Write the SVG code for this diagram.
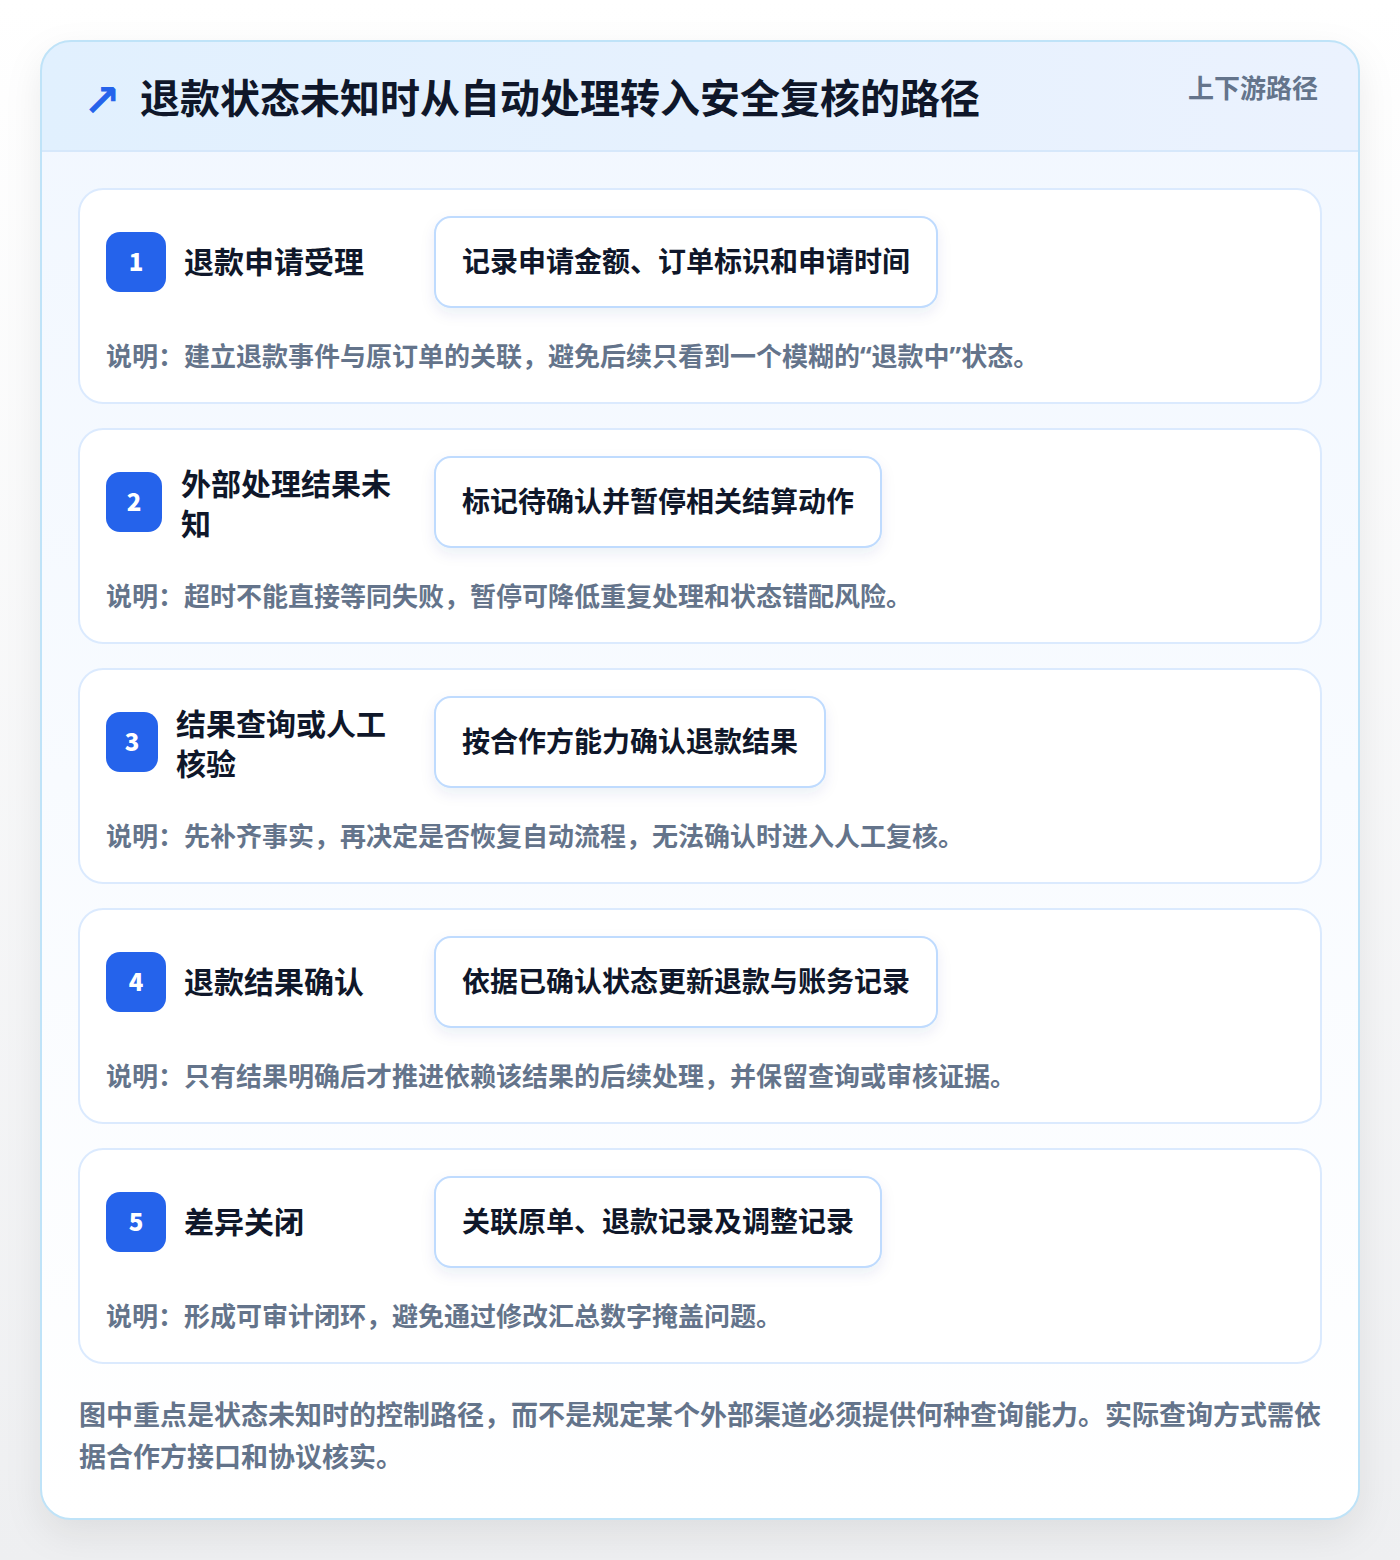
<svg xmlns="http://www.w3.org/2000/svg" width="1400" height="1560" viewBox="0 0 1400 1560">
<defs>
<linearGradient id="bg" x1="0" y1="0" x2="0" y2="1"><stop offset="0" stop-color="#ffffff"/><stop offset="1" stop-color="#eeeff1"/></linearGradient>
<linearGradient id="hdr" x1="0" y1="0" x2="1" y2="0"><stop offset="0" stop-color="#e1f0fe"/><stop offset="1" stop-color="#ebf2fe"/></linearGradient>
<linearGradient id="body" x1="0" y1="0" x2="0" y2="1"><stop offset="0" stop-color="#f1f7ff"/><stop offset="1" stop-color="#ffffff"/></linearGradient>
<filter id="sh" x="-10%" y="-10%" width="120%" height="120%"><feDropShadow dx="0" dy="14" stdDeviation="18" flood-color="#0f172a" flood-opacity="0.08"/></filter>
<filter id="bsh" x="-10%" y="-20%" width="120%" height="150%"><feDropShadow dx="0" dy="6" stdDeviation="7" flood-color="#1e3a8a" flood-opacity="0.08"/></filter>
<clipPath id="cc"><rect x="41" y="41" width="1318" height="1478" rx="30"/></clipPath>
<style>
text{font-family:"Noto Sans CJK SC","Noto Sans",sans-serif;font-weight:700}
.card{fill:#ffffff;stroke:#dbeafe;stroke-width:2}
.badge{fill:#2563eb}
.num{fill:#ffffff;font-size:24px;font-weight:900;text-anchor:middle}
.ttl{fill:#0f172a;font-size:30px}
.box{fill:#ffffff;stroke:#bfdbfe;stroke-width:2}
.btx{fill:#0f172a;font-size:28px}
.desc{fill:#64748b;font-size:26px}
.foot{fill:#64748b;font-size:27px}
.q{font-family:"Noto Sans","Liberation Sans",sans-serif}
</style>
</defs>
<rect x="0" y="0" width="1400" height="1560" fill="url(#bg)"/>
<g id="frame">
<rect x="41" y="41" width="1318" height="1478" rx="30" fill="url(#body)" filter="url(#sh)"/>
<g clip-path="url(#cc)">
<rect x="41" y="41" width="1318" height="110" fill="url(#hdr)"/>
<line x1="41" y1="151" x2="1359" y2="151" stroke="#d6e8fb" stroke-width="2"/>
</g>
<rect x="41" y="41" width="1318" height="1478" rx="30" fill="none" stroke="#bfe3f8" stroke-width="2"/>
</g>
<g id="header">
<text x="83" y="116" style="font-family:'DejaVu Sans',sans-serif;font-size:45px;font-weight:700" fill="#2563eb">↗</text>
<text x="140" y="113" style="font-size:40px" fill="#0f172a">退款状态未知时从自动处理转入安全复核的路径</text>
<text x="1318" y="98" style="font-size:26px" fill="#64748b" text-anchor="end">上下游路径</text>
</g>
<g id="connectors"></g>
<g id="step1">
<rect class="card" x="79" y="189" width="1242" height="214" rx="24"/>
<rect class="badge" x="106" y="232" width="60" height="60" rx="14"/>
<text class="num" x="136" y="271">1</text>
<text class="ttl" x="184" y="273">退款申请受理</text>
<rect class="box" x="435" y="217" width="502" height="90" rx="16" filter="url(#bsh)"/>
<text class="btx" x="462" y="272">记录申请金额、订单标识和申请时间</text>
<text class="desc" x="106" y="366">说明：建立退款事件与原订单的关联，避免后续只看到一个模糊的<tspan class="q">“</tspan>退款中<tspan class="q">”</tspan>状态。</text>
</g>
<g id="step2">
<rect class="card" x="79" y="429" width="1242" height="214" rx="24"/>
<rect class="badge" x="106" y="472" width="56" height="60" rx="14"/>
<text class="num" x="134" y="511">2</text>
<text class="ttl" x="181" y="495">外部处理结果未</text>
<text class="ttl" x="181" y="535">知</text>
<rect class="box" x="435" y="457" width="446" height="90" rx="16" filter="url(#bsh)"/>
<text class="btx" x="462" y="512">标记待确认并暂停相关结算动作</text>
<text class="desc" x="106" y="606">说明：超时不能直接等同失败，暂停可降低重复处理和状态错配风险。</text>
</g>
<g id="step3">
<rect class="card" x="79" y="669" width="1242" height="214" rx="24"/>
<rect class="badge" x="106" y="712" width="52" height="60" rx="14"/>
<text class="num" x="132" y="751">3</text>
<text class="ttl" x="176" y="735">结果查询或人工</text>
<text class="ttl" x="176" y="775">核验</text>
<rect class="box" x="435" y="697" width="390" height="90" rx="16" filter="url(#bsh)"/>
<text class="btx" x="462" y="752">按合作方能力确认退款结果</text>
<text class="desc" x="106" y="846">说明：先补齐事实，再决定是否恢复自动流程，无法确认时进入人工复核。</text>
</g>
<g id="step4">
<rect class="card" x="79" y="909" width="1242" height="214" rx="24"/>
<rect class="badge" x="106" y="952" width="60" height="60" rx="14"/>
<text class="num" x="136" y="991">4</text>
<text class="ttl" x="184" y="993">退款结果确认</text>
<rect class="box" x="435" y="937" width="502" height="90" rx="16" filter="url(#bsh)"/>
<text class="btx" x="462" y="992">依据已确认状态更新退款与账务记录</text>
<text class="desc" x="106" y="1086">说明：只有结果明确后才推进依赖该结果的后续处理，并保留查询或审核证据。</text>
</g>
<g id="step5">
<rect class="card" x="79" y="1149" width="1242" height="214" rx="24"/>
<rect class="badge" x="106" y="1192" width="60" height="60" rx="14"/>
<text class="num" x="136" y="1231">5</text>
<text class="ttl" x="184" y="1233">差异关闭</text>
<rect class="box" x="435" y="1177" width="446" height="90" rx="16" filter="url(#bsh)"/>
<text class="btx" x="462" y="1232">关联原单、退款记录及调整记录</text>
<text class="desc" x="106" y="1326">说明：形成可审计闭环，避免通过修改汇总数字掩盖问题。</text>
</g>
<g id="footer">
<text class="foot" x="79" y="1425">图中重点是状态未知时的控制路径，而不是规定某个外部渠道必须提供何种查询能力。实际查询方式需依</text>
<text class="foot" x="79" y="1467">据合作方接口和协议核实。</text>
</g>
</svg>
